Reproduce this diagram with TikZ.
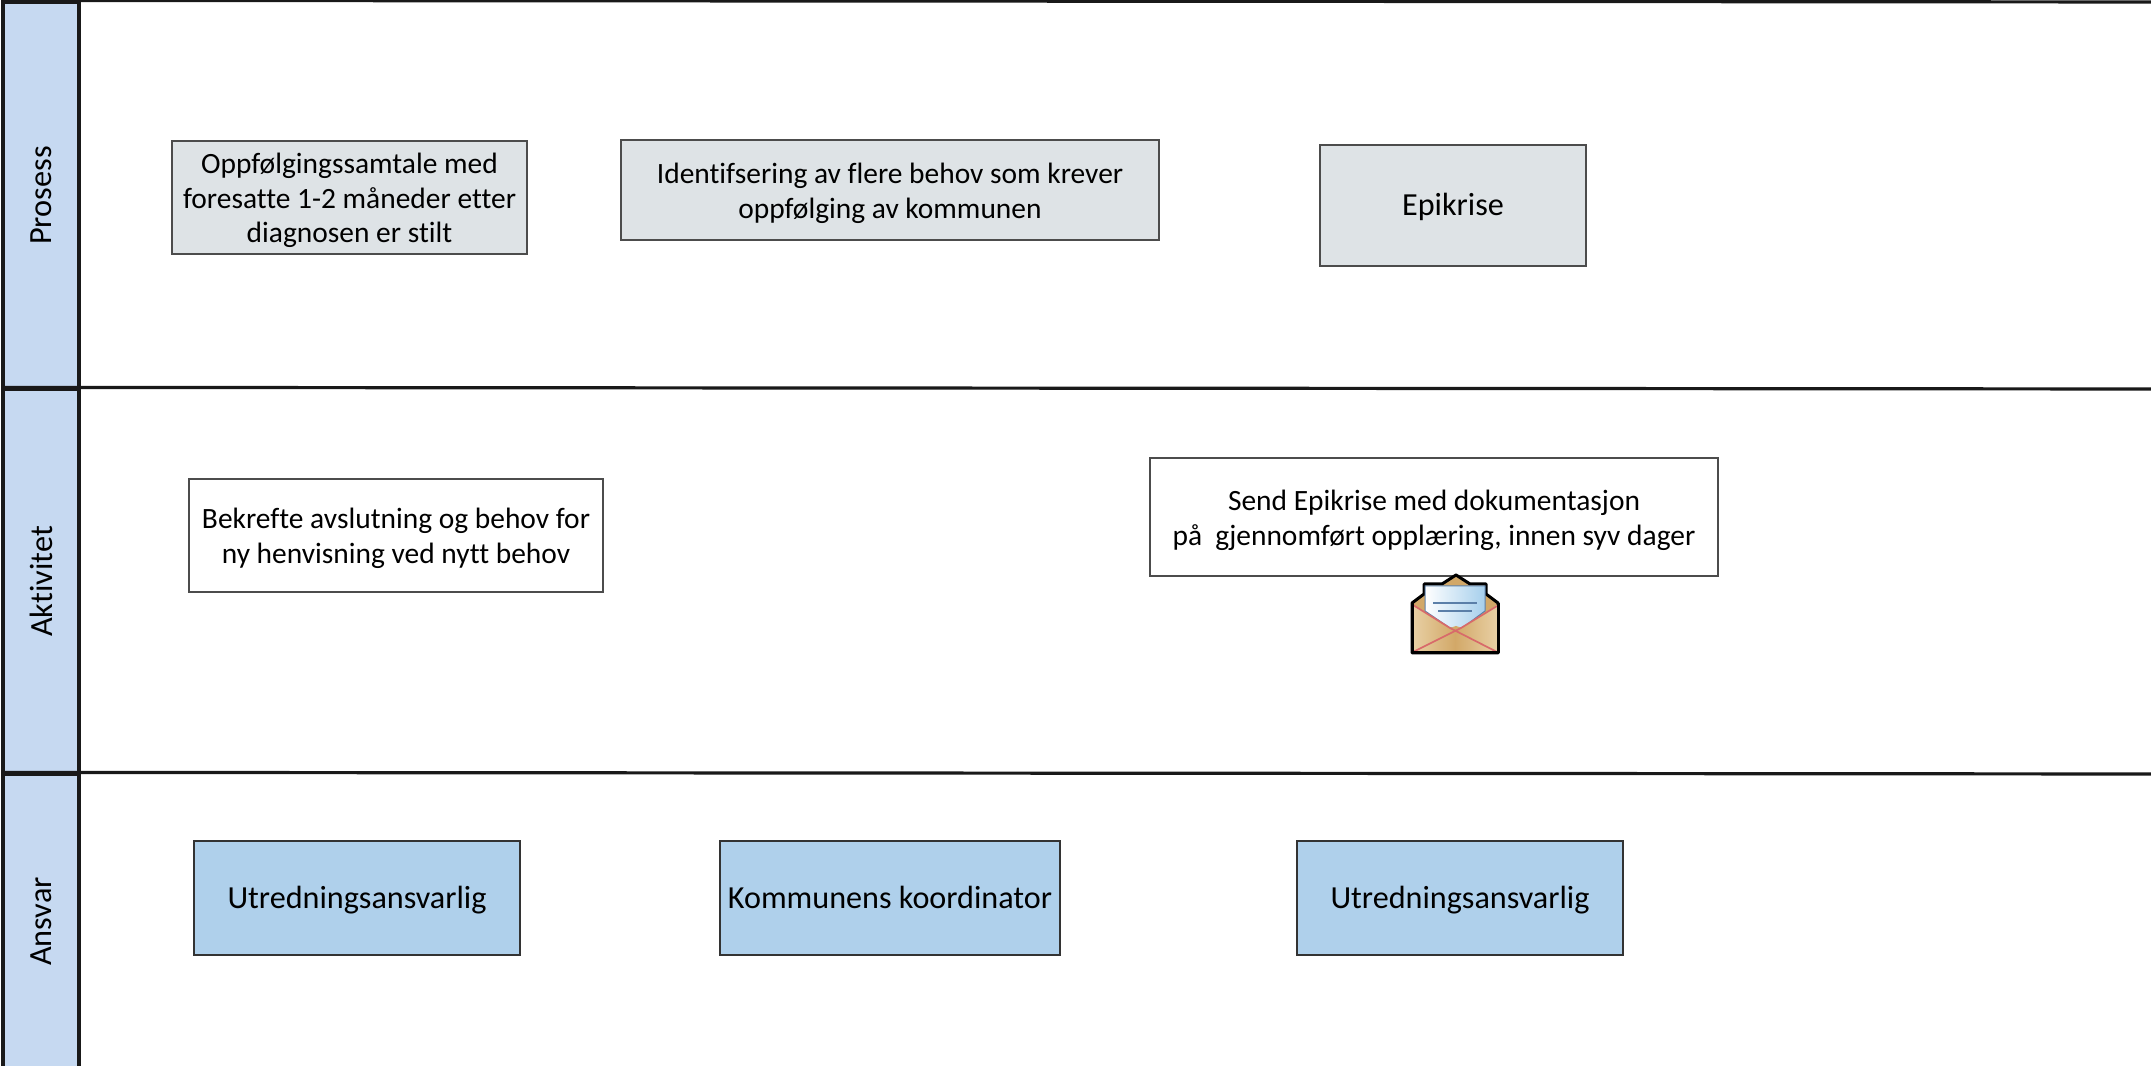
\documentclass[tikz,border=0pt]{standalone}
\usepackage{fontspec}
\setmainfont[Ligatures=CommonOff]{Carlito}
\newcommand{\toprule}{\rule{0pt}{7.5pt}}
\tikzset{
  lanehead/.style={draw=black!90, line width=.32mm, fill=laneblue, rotate=90, inner sep=0pt, minimum height=.76cm, font=\fontsize{9.2}{11}\selectfont},
  laneline/.style={black!90, line width=.32mm},
  prosessbox/.style={draw=black!70, line width=.15mm, fill=prosessgray, align=center, inner sep=0pt, font=\fontsize{8.38}{9.9}\selectfont},
  aktivitetbox/.style={draw=black!70, line width=.15mm, fill=white, align=center, inner sep=0pt, font=\fontsize{8.38}{9.9}\selectfont},
  ansvarbox/.style={draw=black!80, line width=.15mm, fill=ansvarblue, align=center, inner sep=0pt, minimum height=1.14cm, font=\fontsize{9.15}{11}\selectfont, execute at begin node={\strut\rule{0pt}{9.2pt}}},
}
\definecolor{laneblue}{HTML}{C6D9F1}
\definecolor{prosessgray}{HTML}{DEE3E6}
\definecolor{ansvarblue}{HTML}{AFD0EB}
\definecolor{envdark}{HTML}{D2A868}
\definecolor{envlight}{HTML}{E8D0A4}
\definecolor{envred}{HTML}{D86A6A}
\definecolor{paperblue}{HTML}{A6CFEC}
\definecolor{paperline}{HTML}{5B7FA8}
\begin{document}
\begin{tikzpicture}
\useasboundingbox (0,0) rectangle (21.51,10.66);

% lanes
  \node[lanehead, minimum width=3.87cm] (prosess) at (.41,8.705) {Prosess};
  \node[lanehead, minimum width=3.85cm] (aktivitet) at (.41,4.845) {Aktivitet};
  \node[lanehead, minimum width=2.95cm] (ansvar) at (.41,1.445) {Ansvar};
  \coordinate (topend) at (21.6,10.64);
  \coordinate (midend) at (21.6,6.77);
  \coordinate (lowend) at (21.6,2.92);
  \draw[laneline] (prosess.east) ++(-.38,0) -- (topend);
  \draw[laneline] (aktivitet.east) ++(-.38,0) -- (midend);
  \draw[laneline] (ansvar.east) ++(-.38,0) -- (lowend);

% prosess
  \node[prosessbox, minimum width=3.55cm, minimum height=1.13cm] (oppfolging) at (3.495,8.685)
    {\toprule Oppfølgingssamtale med\\foresatte 1-2 måneder etter\\diagnosen er stilt};
  \node[prosessbox, minimum width=5.38cm, minimum height=1cm] (identifisering) at (8.90,8.76)
    {\toprule Identifsering av flere behov som krever\\oppfølging av kommunen};
  \node[prosessbox, minimum width=2.66cm, minimum height=1.21cm, font=\fontsize{9.15}{11}\selectfont] (epikrise) at (14.53,8.605) {\rule{0pt}{7.4pt}Epikrise};

% aktivitet
  \node[aktivitetbox, minimum width=4.14cm, minimum height=1.13cm] (bekrefte) at (3.96,5.305)
    {\toprule Bekrefte avslutning og behov for\\ny henvisning ved nytt behov};
  \node[aktivitetbox, minimum width=5.68cm, minimum height=1.18cm] (send) at (14.34,5.49)
    {\toprule Send Epikrise med dokumentasjon\\på\ \ gjennomført opplæring, innen syv dager};

% envelope
  \draw[line width=.3mm, line join=round, fill=envdark] (14.12,4.13) -- (14.12,4.63) -- (14.24,4.72) -- (14.24,4.82) -- (14.42,4.82) -- (14.56,4.91) -- (14.70,4.82) -- (14.86,4.82) -- (14.86,4.72) -- (14.98,4.63) -- (14.98,4.13) -- cycle;
  \path[left color=white, right color=paperblue, draw=paperline, line width=.1mm] (14.25,4.80) -- (14.85,4.80) -- (14.85,4.55) -- (14.62,4.38) -- (14.50,4.38) -- (14.25,4.55) -- cycle;
  \draw[paperline, line width=.2mm] (14.33,4.63) -- (14.77,4.63);
  \draw[paperline, line width=.2mm] (14.38,4.55) -- (14.72,4.55);
  \path[left color=envlight, right color=envlight, middle color=envdark] (14.13,4.14) -- (14.13,4.61) -- (14.50,4.38) -- (14.56,4.40) -- (14.62,4.38) -- (14.97,4.61) -- (14.97,4.14) -- cycle;
  \draw[envred, line width=.17mm] (14.13,4.61) -- (14.50,4.38) -- (14.97,4.14);
  \draw[envred, line width=.17mm] (14.97,4.60) -- (14.61,4.38) -- (14.13,4.14);
  \draw[line width=.3mm, line join=round] (14.12,4.63) -- (14.12,4.13) -- (14.98,4.13) -- (14.98,4.63);

% ansvar
  \node[ansvarbox, minimum width=3.26cm] (utredning) at (3.57,1.68) {Utredningsansvarlig};
  \node[ansvarbox, minimum width=3.40cm] (koordinator) at (8.90,1.68) {Kommunens koordinator};
  \node[ansvarbox, minimum width=3.26cm] (utredningto) at (14.60,1.68) {Utredningsansvarlig};
\end{tikzpicture}
\end{document}
